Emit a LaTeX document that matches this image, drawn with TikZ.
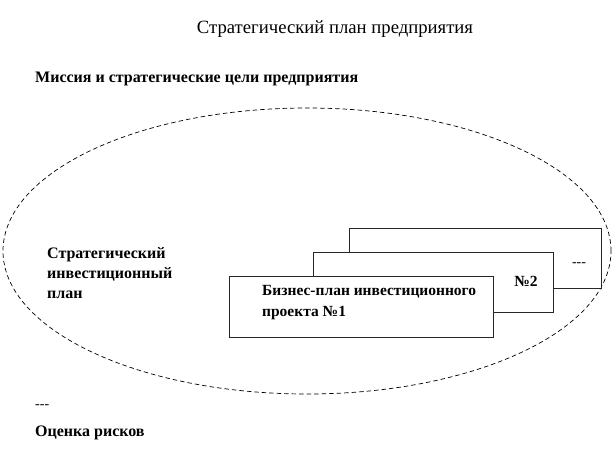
\documentclass[tikz,border=0pt]{standalone}
\usepackage{fontspec}
\setmainfont{Liberation Serif}
\usetikzlibrary{shapes.geometric}
\begin{document}
\begin{tikzpicture}[x=1pt,y=-1pt,
  card/.style={draw=black!85,line width=0.8pt,fill=white,inner sep=0pt},
  lbl/.style={inner sep=0pt,font=\fontsize{16}{19}\selectfont\bfseries},
  blbl/.style={inner sep=0pt,font=\fontsize{15.5}{18}\selectfont\bfseries},
  small/.style={inner sep=0pt,font=\fontsize{14}{16}\selectfont},
  ttl/.style={inner sep=0pt,font=\fontsize{18.7}{22}\selectfont}]
\useasboundingbox (0,0) rectangle (614,458);
\node[ttl,anchor=base] (title) at (335,33) {Стратегический план предприятия};
\node[lbl,anchor=base west] (mission) at (35,82) {Миссия и стратегические цели предприятия};
\node[draw,dash pattern=on 4.5pt off 3pt,line width=0.7pt,ellipse,minimum width=608pt,minimum height=286pt,inner sep=0pt] (ell) at (307,251) {};
\node[lbl,anchor=base west] (s1) at (47,258) {Стратегический};
\node[lbl,anchor=base west] (s2) at (47,278) {инвестиционный};
\node[lbl,anchor=base west] (s3) at (47,298) {план};
\node[card,minimum width=252pt,minimum height=60pt] (c3) at (475,258) {};
\node[card,minimum width=240pt,minimum height=60pt] (c2) at (433,282) {};
\node[card,minimum width=264pt,minimum height=61pt] (c1) at (361,306.5) {};
\node[blbl,anchor=base west] (b1) at (262,295) {Бизнес-план инвестиционного};
\node[blbl,anchor=base west] (b2) at (262,316) {проекта №1};
\node[blbl,anchor=base] (n2) at (526,286) {№2};
\node[small,anchor=base] (dots) at (579,266) {-{}-{}-};
\node[small,anchor=base west] (dash2) at (35,408) {-{}-{}-};
\node[lbl,anchor=base west] (risk) at (35,436) {Оценка рисков};
\end{tikzpicture}
\end{document}
